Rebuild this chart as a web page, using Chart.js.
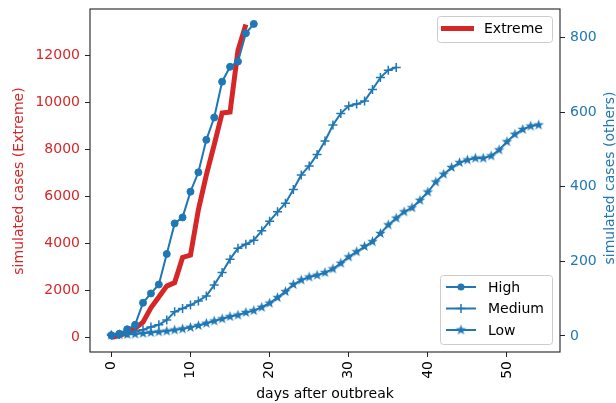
<!DOCTYPE html>
<html>
<head>
<meta charset="utf-8">
<script src="https://cdn.jsdelivr.net/npm/chart.js@4.4.0/dist/chart.umd.min.js"></script>
<style>
    html, body { margin: 0; padding: 0; background: #fff; }
    #box { width: 616px; height: 403px; }
</style>
</head>
<body>
<div id="box"><canvas id="outbreakChart" width="616" height="403"></canvas></div>
<script>
// Casos simulados por dia (eixo esquerdo: Extreme, eixo direito: os outros)
const extremeCases = [0, 80, 200, 380, 650, 1260, 1720, 2180, 2330, 3400, 3500, 5430, 6900, 8200, 9540, 9580, 12200, 13300];
const highCases = [2, 6, 18, 30, 89, 114, 138, 220, 302, 318, 387, 439, 526, 586, 682, 722, 736, 812, 837];
const mediumCases = [2, 4, 8, 12, 17, 24, 30, 43, 65, 74, 83, 94, 107, 137, 170, 206, 235, 246, 257, 282,
    308, 333, 356, 393, 432, 456, 487, 523, 566, 597, 617, 622, 630, 661, 693, 713, 720];
const lowCases = [2, 3, 4, 5, 7, 9, 11, 13, 16, 19, 23, 28, 34, 40, 46, 52, 56, 63, 68, 77,
    88, 103, 119, 138, 150, 158, 163, 170, 180, 195, 212, 226, 240, 253, 275, 298, 316, 333, 344, 364,
    386, 413, 434, 452, 465, 472, 477, 477, 483, 499, 521, 541, 554, 563, 566];

// Marcas dos eixos
const dayTicks = [0, 10, 20, 30, 40, 50];
const extremeTicks = [0, 2000, 4000, 6000, 8000, 10000, 12000];
const othersTicks = [0, 200, 400, 600, 800];

const RED = '#d62728';
const BLUE = '#1f77b4';
const FONT = 'DejaVu Sans';

Chart.defaults.font.family = FONT;
Chart.defaults.font.size = 14;
Chart.defaults.color = '#000';

// dia = posição no array
function toPoints(values) {
    return values.map((v, i) => ({ x: i, y: v }));
}

// Estrela cheia de 5 pontas (marcador '*' do matplotlib)
function makeStar(r) {
    const c = document.createElement('canvas');
    const s = Math.ceil(r * 2 + 2);
    c.width = s;
    c.height = s;
    const g = c.getContext('2d');
    g.fillStyle = BLUE;
    g.beginPath();
    for (let k = 0; k < 10; k++) {
        const rad = k % 2 ? r * 0.42 : r;
        const a = -Math.PI / 2 + k * Math.PI / 5;
        g.lineTo(s / 2 + rad * Math.cos(a), s / 2 + rad * Math.sin(a));
    }
    g.closePath();
    g.fill();
    return c;
}
const starImg = makeStar(5.5);

// Desenha um marcador de legenda
function drawMarker(ctx, style, x, y) {
    ctx.save();
    ctx.fillStyle = BLUE;
    ctx.strokeStyle = BLUE;
    if (style === 'circle') {
        ctx.beginPath();
        ctx.arc(x, y, 3.5, 0, Math.PI * 2);
        ctx.fill();
    } else if (style === 'cross') {
        ctx.lineWidth = 1.5;
        ctx.beginPath();
        ctx.moveTo(x - 4.5, y); ctx.lineTo(x + 4.5, y);
        ctx.moveTo(x, y - 4.5); ctx.lineTo(x, y + 4.5);
        ctx.stroke();
    } else if (style === 'star') {
        ctx.drawImage(starImg, x - starImg.width / 2, y - starImg.height / 2);
    }
    ctx.restore();
}

function legendBox(ctx, x, y, w, h) {
    ctx.save();
    ctx.beginPath();
    ctx.roundRect(x + 0.5, y + 0.5, w, h, 3);
    ctx.fillStyle = 'rgba(255,255,255,0.8)';
    ctx.fill();
    ctx.strokeStyle = '#cccccc';
    ctx.lineWidth = 1;
    ctx.stroke();
    ctx.restore();
}

// Moldura, legendas e títulos dos eixos y
const decorPlugin = {
    id: 'decor',
    afterDraw(chart) {
        const ctx = chart.ctx;
        const a = chart.chartArea;

        // moldura
        ctx.save();
        ctx.strokeStyle = '#222';
        ctx.lineWidth = 1.1;
        ctx.strokeRect(a.left, a.top, a.right - a.left, a.bottom - a.top);
        ctx.restore();

        ctx.save();
        ctx.font = '14px "' + FONT + '"';
        ctx.textBaseline = 'middle';

        // legenda Extreme
        legendBox(ctx, 437, 16, 115, 26);
        ctx.strokeStyle = RED;
        ctx.lineWidth = 5;
        ctx.beginPath();
        ctx.moveTo(441, 28.5);
        ctx.lineTo(474, 28.5);
        ctx.stroke();
        ctx.fillStyle = '#000';
        ctx.fillText('Extreme', 484, 29);

        // legenda dos outros
        legendBox(ctx, 440, 275, 112, 69);
        const rows = [['High', 'circle', 287], ['Medium', 'cross', 308.5], ['Low', 'star', 330]];
        rows.forEach(r => {
            ctx.strokeStyle = BLUE;
            ctx.lineWidth = 2;
            ctx.beginPath();
            ctx.moveTo(446, r[2]);
            ctx.lineTo(476, r[2]);
            ctx.stroke();
            drawMarker(ctx, r[1], 461, r[2]);
            ctx.fillStyle = '#000';
            ctx.fillText(r[0], 488, r[2] + 1);
        });

        // títulos dos eixos y (ambos lidos de baixo para cima)
        ctx.textAlign = 'center';
        ctx.save();
        ctx.translate(19, 181);
        ctx.rotate(-Math.PI / 2);
        ctx.fillStyle = RED;
        ctx.fillText('simulated cases (Extreme)', 0, 0);
        ctx.restore();

        ctx.save();
        ctx.translate(610, 178);
        ctx.rotate(-Math.PI / 2);
        ctx.fillStyle = BLUE;
        ctx.fillText('simulated cases (others)', 0, 0);
        ctx.restore();

        ctx.restore();
    }
};

function setTicks(list) {
    return function(scale) {
        scale.ticks = list.map(v => ({ value: v }));
    };
}

// tamanho fixo das caixas dos eixos, sem folga extra dos rótulos
function fixBox(w, h) {
    return function(s) {
        if (w !== null) s.width = w;
        if (h !== null) s.height = h;
        s.paddingTop = 0;
        s.paddingBottom = 0;
        s.paddingLeft = 0;
        s.paddingRight = 0;
    };
}

function createChart() {
    const ctx = document.getElementById('outbreakChart');

    new Chart(ctx, {
        type: 'line',
        data: {
            datasets: [
                {
                    label: 'Low',
                    data: toPoints(lowCases),
                    yAxisID: 'y1',
                    borderColor: BLUE,
                    borderWidth: 2,
                    pointStyle: starImg,
                    pointRadius: 5
                },
                {
                    label: 'Medium',
                    data: toPoints(mediumCases),
                    yAxisID: 'y1',
                    borderColor: BLUE,
                    borderWidth: 2,
                    pointStyle: 'cross',
                    pointRadius: 4.5,
                    pointBorderWidth: 1.5,
                    pointBorderColor: BLUE
                },
                {
                    label: 'High',
                    data: toPoints(highCases),
                    yAxisID: 'y1',
                    borderColor: BLUE,
                    borderWidth: 2,
                    pointStyle: 'circle',
                    pointRadius: 3.5,
                    pointBorderWidth: 1,
                    pointBackgroundColor: BLUE,
                    pointBorderColor: BLUE
                },
                {
                    label: 'Extreme',
                    data: toPoints(extremeCases),
                    yAxisID: 'y',
                    borderColor: RED,
                    borderWidth: 5,
                    pointRadius: 0
                }
            ]
        },
        options: {
            responsive: false,
            animation: false,
            layout: { padding: { top: 9, left: 0, right: 0, bottom: 0 } },
            plugins: {
                legend: { display: false },
                tooltip: { enabled: false }
            },
            scales: {
                x: {
                    type: 'linear',
                    min: -2.7,
                    max: 56.7,
                    afterBuildTicks: setTicks(dayTicks),
                    afterFit: fixBox(null, 51),
                    border: { display: false },
                    grid: { drawOnChartArea: false, tickLength: 5, tickColor: '#222', tickWidth: 1 },
                    ticks: {
                        minRotation: 90,
                        maxRotation: 90,
                        padding: 4,
                        color: '#000',
                        callback: v => String(v)
                    },
                    title: {
                        display: true,
                        text: 'days after outbreak',
                        color: '#000',
                        padding: { top: 0, bottom: 0 }
                    }
                },
                y: {
                    position: 'left',
                    min: -620,
                    max: 13960,
                    afterBuildTicks: setTicks(extremeTicks),
                    afterFit: fixBox(90, null),
                    border: { display: false },
                    grid: { drawOnChartArea: false, tickLength: 5, tickColor: '#222', tickWidth: 1 },
                    ticks: { color: RED, padding: 5, callback: v => String(v) }
                },
                y1: {
                    position: 'right',
                    min: -43,
                    max: 877,
                    afterBuildTicks: setTicks(othersTicks),
                    afterFit: fixBox(56, null),
                    border: { display: false },
                    grid: { drawOnChartArea: false, tickLength: 5, tickColor: '#222', tickWidth: 1 },
                    ticks: { color: BLUE, padding: 5, callback: v => String(v) }
                }
            }
        },
        plugins: [decorPlugin]
    });
}

document.addEventListener('DOMContentLoaded', createChart);
</script>
</body>
</html>
